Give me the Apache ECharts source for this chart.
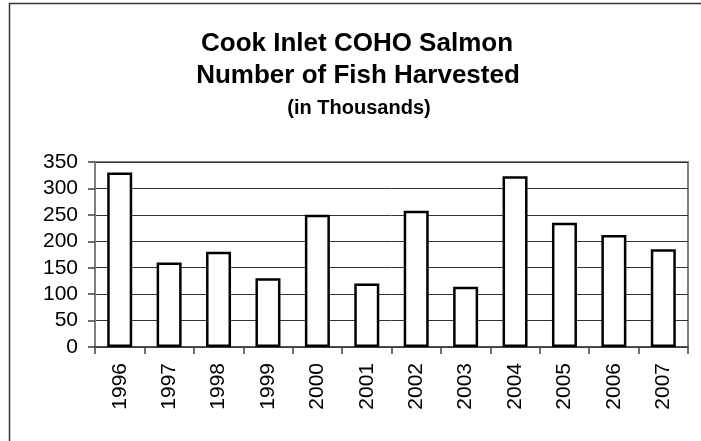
<!DOCTYPE html>
<html>
<head>
<meta charset="utf-8">
<style>
  html, body { margin: 0; padding: 0; background: #fff; }
  #main { width: 701px; height: 441px; }
</style>
<script src="https://cdn.jsdelivr.net/npm/echarts@6/dist/echarts.min.js"></script>
</head>
<body>
<div id="main"></div>
<script>
var years = ['1996', '1997', '1998', '1999', '2000', '2001', '2002', '2003', '2004', '2005', '2006', '2007'];
var harvest = [330, 160, 180, 130, 250, 120, 258, 114, 323, 235, 212, 185];
var titleLines = ['Cook Inlet COHO Salmon', 'Number of Fish Harvested', '(in Thousands)'];

var font = '"Liberation Sans", Arial, sans-serif';

var chart = echarts.init(document.getElementById('main'), null, { renderer: 'canvas' });

var option = {
  backgroundColor: '#fff',
  animation: false,
  graphic: [
    {
      type: 'rect',
      shape: { x: 9.5, y: 3.5, width: 800, height: 600 },
      style: { fill: 'none', stroke: '#333', lineWidth: 1.5 },
      silent: true
    },
    {
      type: 'text', x: 357, y: 44,
      style: { text: titleLines[0], font: 'bold 26px ' + font, fill: '#000', align: 'center', verticalAlign: 'middle' }
    },
    {
      type: 'text', x: 358, y: 76,
      style: { text: titleLines[1], font: 'bold 26px ' + font, fill: '#000', align: 'center', verticalAlign: 'middle' }
    },
    {
      type: 'text', x: 359, y: 108,
      style: { text: titleLines[2], font: 'bold 20px ' + font, fill: '#000', align: 'center', verticalAlign: 'middle' }
    }
  ],
  grid: {
    left: 95,
    right: 13,
    top: 162,
    bottom: 94,
    show: true,
    borderColor: '#808080',
    borderWidth: 2,
    backgroundColor: 'transparent'
  },
  xAxis: {
    type: 'category',
    data: years,
    axisLine: { lineStyle: { color: '#404040', width: 1.5 } },
    axisTick: { show: true, length: 7, lineStyle: { color: '#404040', width: 1.5 } },
    axisLabel: {
      rotate: 90,
      margin: 16,
      color: '#000',
      fontSize: 21,
      fontFamily: font
    }
  },
  yAxis: {
    type: 'value',
    min: 0,
    max: 350,
    interval: 50,
    axisLine: { show: true, lineStyle: { color: '#808080', width: 2 } },
    axisTick: { show: true, length: 7, lineStyle: { color: '#404040', width: 1.5 } },
    axisLabel: {
      margin: 17,
      color: '#000',
      fontSize: 21,
      fontFamily: font
    },
    splitLine: { show: true, lineStyle: { color: '#333', width: 1 } }
  },
  series: [
    {
      type: 'bar',
      data: harvest,
      barWidth: 25,
      itemStyle: {
        color: '#fff',
        borderColor: '#000',
        borderWidth: 2.5
      }
    }
  ]
};

chart.setOption(option);
window.addEventListener('resize', chart.resize);
</script>
</body>
</html>
